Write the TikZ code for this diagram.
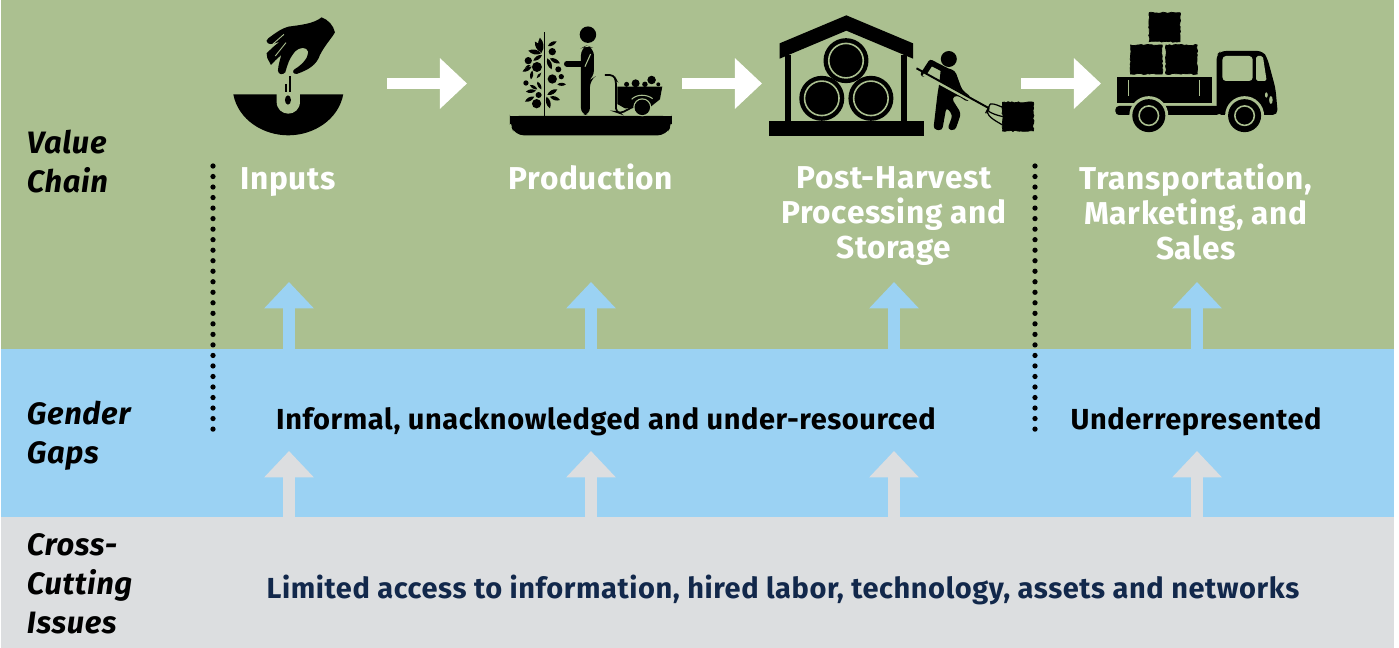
\documentclass[tikz,border=0pt]{standalone}
\usepackage{fontspec}
\setmainfont{Fira Sans}[LetterSpace=2]
\usetikzlibrary{arrows.meta, decorations.pathmorphing}

\definecolor{chaingreen}{RGB}{171,192,144}
\definecolor{gapblue}{RGB}{155,210,243}
\definecolor{issuegray}{RGB}{220,222,224}
\definecolor{issuenavy}{RGB}{18,40,75}

% one leaf of the plant
\newcommand{\leaf}[2]{\fill (#1) to[bend left=38] (#2) to[bend left=38] (#1);}

\begin{document}
\begin{tikzpicture}[x=0.02cm, y=-0.02cm]
\tikzset{ >=Triangle, inner sep=0pt, outer sep=0pt,
  rowlbl/.style={font=\fontsize{17.6pt}{22.2pt}\selectfont\bfseries\itshape, align=left, anchor=west},
  steplbl/.style={font=\fontsize{18pt}{19.9pt}\selectfont\bfseries, align=center, white, anchor=north, execute at begin node={\rule{0pt}{16pt}}},
  gaplbl/.style={font=\fontsize{16.5pt}{19.9pt}\selectfont\bfseries},
  flowarrow/.style={-{Triangle[length=15.4pt,width=27.9pt]}, line width=6.6pt, white},
  gaparrow/.style={-{Triangle[length=15pt,width=27.3pt]}, line width=6.8pt, gapblue},
  issuearrow/.style={-{Triangle[length=15pt,width=27.3pt]}, line width=6.8pt, issuegray},
  dotline/.style={line width=3pt, line cap=round, dash pattern=on 0pt off 5.99pt},
  bale/.style={fill=black, draw=black, line width=0.4pt, decorate, decoration={random steps, segment length=1.2pt, amplitude=0.35pt}},
  iconA/.style={shift={(4cm,0cm)}, x=0.006667cm, y=-0.006667cm},
  iconB/.style={shift={(15cm,0cm)}, x=0.007018cm, y=-0.006667cm},
}

\useasboundingbox (0,0) rectangle (1399,648);

% bands
\fill [chaingreen] (1,0) rectangle (1394,349);
\fill [gapblue]    (1,349) rectangle (1394,517);
\fill [issuegray]  (1,517) rectangle (1394,648);

% row labels
\node [rowlbl] (valuechain) at (27,161.5) {Value\\Chain};
\node [rowlbl] (gendergaps) at (27,436) {Gender\\Gaps};
\node [rowlbl] (crosscutting) at (27,584) {Cross-\\Cutting\\Issues};

% steps
\node [steplbl] (inputs) at (288,161) {Inputs};
\node [steplbl] (production) at (591,161) {Production};
\node [steplbl] (postharvest) at (894,167) {Post-Harvest\\Processing and\\Storage};
\node [steplbl] (transport) at (1196,164) {Transportation,\\Marketing, and\\Sales};

\node [gaplbl] (informal) at (606,421.5) {Informal, unacknowledged and under-resourced};
\node [gaplbl] (underrep) at (1196,421.5) {Underrepresented};
\node [gaplbl, issuenavy] (limited) at (783,589.5) {Limited access to information, hired labor, technology, assets and networks};

% dotted dividers
\coordinate (divAtop) at (213,166);
\coordinate (divAend) at (213,430);
\coordinate (divBtop) at (1035,166);
\coordinate (divBend) at (1035,430);
\draw [dotline] (divAtop) -- (divAend);
\draw [dotline] (divBtop) -- (divBend);

% arrows along the chain
\coordinate (flowAs) at (387,83.5);
\coordinate (flowAe) at (467,83.5);
\coordinate (flowBs) at (682,83.5);
\coordinate (flowBe) at (762,83.5);
\coordinate (flowCs) at (1021,83.5);
\coordinate (flowCe) at (1101,83.5);
\draw [flowarrow] (flowAs) -- (flowAe);
\draw [flowarrow] (flowBs) -- (flowBe);
\draw [flowarrow] (flowCs) -- (flowCe);

% arrows up from the gaps
\coordinate (gapAs) at (289,350);
\coordinate (gapAe) at (289,282);
\coordinate (gapBs) at (591,350);
\coordinate (gapBe) at (591,282);
\coordinate (gapCs) at (894,350);
\coordinate (gapCe) at (894,282);
\coordinate (gapDs) at (1197,350);
\coordinate (gapDe) at (1197,282);
\draw [gaparrow] (gapAs) -- (gapAe);
\draw [gaparrow] (gapBs) -- (gapBe);
\draw [gaparrow] (gapCs) -- (gapCe);
\draw [gaparrow] (gapDs) -- (gapDe);

% arrows up from the issues
\coordinate (issueAs) at (289,518);
\coordinate (issueAe) at (289,451);
\coordinate (issueBs) at (591,518);
\coordinate (issueBe) at (591,451);
\coordinate (issueCs) at (894,518);
\coordinate (issueCe) at (894,451);
\coordinate (issueDs) at (1197,518);
\coordinate (issueDe) at (1197,451);
\draw [issuearrow] (issueAs) -- (issueAe);
\draw [issuearrow] (issueBs) -- (issueBe);
\draw [issuearrow] (issueCs) -- (issueCe);
\draw [issuearrow] (issueDs) -- (issueDe);

% seed icon
\begin{scope}[iconA]
\fill (100,283) -- (430,283) .. controls (415,360) and (340,406) .. (265,406) .. controls (190,406) and (115,360) .. (100,283) -- cycle;
\fill [chaingreen] (230,282) -- (300,282) -- (300,305) .. controls (300,328) and (283,341) .. (265,341) .. controls (247,341) and (230,328) .. (230,305) -- cycle;
\fill (264,300) ellipse (9 and 14);
\draw [line width=1.2pt] (270,228) -- (270,275);
\draw [line width=1.0pt] (259,252) -- (259,275);
\fill (365,52) .. controls (385,60) and (400,75) .. (405,97) .. controls (395,115) and (375,135) .. (360,165)
  .. controls (350,195) and (325,210) .. (290,222) .. controls (278,222) and (276,212) .. (285,207)
  .. controls (305,195) and (325,175) .. (325,155) .. controls (320,140) and (300,140) .. (285,155)
  .. controls (268,175) and (262,195) .. (256,217) .. controls (248,226) and (235,224) .. (234,212)
  .. controls (235,195) and (240,180) .. (244,165) .. controls (232,175) and (222,185) .. (213,195)
  .. controls (203,175) and (198,170) .. (200,160) .. controls (212,148) and (225,135) .. (240,125)
  .. controls (225,130) and (212,135) .. (204,130) .. controls (198,125) and (198,120) .. (205,115)
  .. controls (225,100) and (245,85) .. (265,80) .. controls (300,75) and (340,72) .. (365,52) -- cycle;
\draw [chaingreen, line width=0.5pt] (252,103) -- (212,138);
\draw [chaingreen, line width=0.5pt] (258,128) -- (226,168);
\end{scope}

% production icon
\begin{scope}[iconA]
\fill [rounded corners=5pt] (930,348) -- (930,370) -- (945,406) -- (1400,406) -- (1416,370) -- (1416,348) -- cycle;
\fill (930,348) rectangle (1416,372);
\fill (1031,97) rectangle (1036,350);
\fill (985,182) circle (0.073cm) (1011,201) circle (0.1cm) (1057,155) circle (0.073cm) (1075,208) circle (0.06cm)
  (1057,237) circle (0.093cm) (1084,230) circle (0.053cm) (978,249) circle (0.053cm) (1016,285) circle (0.06cm) (1010,311) circle (0.093cm);
\leaf{1020,113}{1025,158}
\leaf{1005,125}{1026,158}
\leaf{985,152}{1024,160}
\leaf{1044,138}{1070,124}
\leaf{1000,182}{1026,165}
\leaf{968,215}{995,200}
\leaf{975,203}{992,195}
\leaf{1042,175}{1055,208}
\leaf{1050,175}{1080,190}
\leaf{993,238}{997,212}
\leaf{1010,235}{1024,218}
\leaf{990,255}{1012,268}
\leaf{1012,245}{1024,268}
\leaf{1072,253}{1098,253}
\leaf{978,275}{1008,272}
\leaf{975,305}{1003,290}
\leaf{1042,285}{1072,268}
\leaf{1040,290}{1050,325}
\leaf{1050,290}{1080,300}
% farmer
\fill (1164,104) circle (0.165cm);
\fill [rounded corners=4pt] (1143,145) -- (1160,136) -- (1182,145) -- (1182,232) -- (1170,240) -- (1170,345) -- (1143,345) -- cycle;
\draw [line width=3.4pt, line cap=round] (1101,191) -- (1158,191);
\draw [chaingreen, line width=0.6pt] (1172,162) -- (1155,200);
% cart
\draw [line width=1pt, rounded corners=2pt] (1215,225) -- (1240,225) -- (1248,240) -- (1248,335) -- (1262,340) -- (1300,320);
\fill (1252,260) -- (1387,260) -- (1380,298) -- (1350,322) -- (1275,325) -- (1252,312) -- cycle;
\fill (1307,250) circle (0.08cm) (1355,240) circle (0.085cm) (1280,253) circle (0.05cm) (1335,253) circle (0.055cm) (1375,253) circle (0.04cm);
\fill [chaingreen] (1327,322) circle (0.18cm);
\fill (1327,322) circle (0.155cm);
\draw [chaingreen, line width=0.6pt] (1295,298) .. controls (1310,282) and (1340,282) .. (1358,296);
\end{scope}

% storage icon
\begin{scope}[iconB]
\fill (55,362) rectangle (495,407);
\fill (100,165) rectangle (118,362);
\fill (430,165) rectangle (448,362);
\fill (85,130) -- (275,46) -- (465,130) -- (465,176) -- (275,92) -- (85,176) -- cycle;
\fill (274,182) circle (0.45cm);
\fill (205,295) circle (0.45cm);
\fill (345,295) circle (0.45cm);
\draw [chaingreen, line width=0.9pt] (274,182) circle (0.345cm);
\draw [chaingreen, line width=0.9pt] (205,295) circle (0.345cm);
\draw [chaingreen, line width=0.9pt] (345,295) circle (0.345cm);
% worker with fork
\fill (567,177) circle (0.16cm);
\fill [rounded corners=2pt] (545,198) -- (585,212) -- (605,270) -- (632,292) -- (622,307) -- (590,285) -- (575,295) -- (602,340)
  -- (585,392) -- (563,388) -- (578,345) -- (560,322) -- (548,392) -- (523,388) -- (535,280) -- (540,250) -- cycle;
\draw [line width=3.2pt, line cap=round, line join=round] (495,222) -- (516,188) -- (560,212);
\draw [chaingreen, line width=2.2pt] (495,222) -- (640,305);
\draw [line width=1.1pt] (475,205) -- (682,325);
\draw [line width=0.7pt] (685,312) .. controls (700,310) and (712,320) .. (722,322);
\draw [line width=0.7pt] (680,325) .. controls (672,335) and (700,345) .. (722,350);
\draw [line width=0.7pt] (682,325) .. controls (665,345) and (700,362) .. (720,375);
\draw [line width=0.7pt] (685,312) -- (672,340);
\fill [bale] (720,307) rectangle (808,393);
% truck
\fill [bale] (1138,38) rectangle (1226,125);
\fill [bale] (1085,135) rectangle (1175,222);
\fill [bale] (1186,135) rectangle (1275,222);
\fill (1047,232) rectangle (1318,308);
\draw [chaingreen, line width=0.6pt] (1079,240) -- (1079,288);
\draw [chaingreen, line width=0.6pt] (1281,240) -- (1281,288);
\fill [rounded corners=3pt] (1330,165) -- (1342,153) -- (1462,153) -- (1475,175) -- (1498,265) -- (1505,345) -- (1330,345) -- cycle;
\fill [rounded corners=2pt] (1042,345) -- (1042,318) -- (1340,318) -- (1340,345) -- cycle;
\fill [chaingreen, rounded corners=2pt] (1347,168) rectangle (1433,243);
\fill [chaingreen, rounded corners=1pt] (1443,168) -- (1462,168) -- (1473,243) -- (1443,243) -- cycle;
\fill [chaingreen] (1485,300) ellipse (5 and 12);
\fill [chaingreen] (1472,285) ellipse (4 and 8);
\fill [chaingreen] (1137,347) circle (0.39cm);
\fill [chaingreen] (1410,347) circle (0.39cm);
\fill (1137,347) circle (0.33cm);
\fill (1410,347) circle (0.33cm);
\draw [chaingreen, line width=0.9pt] (1137,347) circle (0.195cm);
\draw [chaingreen, line width=0.9pt] (1410,347) circle (0.195cm);
\end{scope}

\end{tikzpicture}
\end{document}
